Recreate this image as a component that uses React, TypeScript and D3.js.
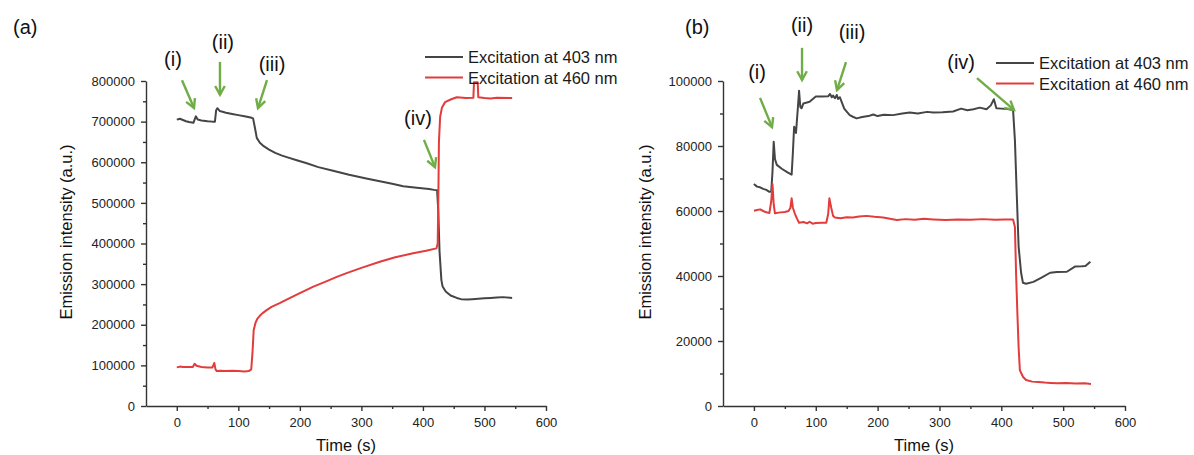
import React, { useEffect, useRef } from 'react';
import * as d3 from 'd3';

const seriesNames = ['Excitation at 403 nm', 'Excitation at 460 nm'];
const seriesColors = ['#454545', '#e23c3c'];
const arrowColor = '#70ad47';

const xTicks = [0, 100, 200, 300, 400, 500, 600];
const xMinorTicks = [50, 150, 250, 350, 450, 550];
const yTicksA = [0, 100000, 200000, 300000, 400000, 500000, 600000, 700000, 800000];
const yMinorA = [50000, 150000, 250000, 350000, 450000, 550000, 650000, 750000];
const yTicksB = [0, 20000, 40000, 60000, 80000, 100000];
const yMinorB = [10000, 30000, 50000, 70000, 90000];

// panel (a), [time s, intensity]
const a403: [number, number][] = [
  [0, 705000], [5, 707000], [10, 704000], [15, 701000], [20, 699000], [27, 697000], [29, 705000],
  [31, 713000], [34, 705000], [40, 703000], [50, 701000], [58, 700000], [62, 700000], [64, 728000],
  [66, 733000], [70, 726000], [80, 722000], [90, 719000], [100, 716000], [110, 713000], [120, 710000],
  [124, 708000], [127, 685000], [130, 660000], [135, 648000], [140, 641000], [150, 631000], [160, 623000],
  [170, 617000], [180, 612000], [195, 605000], [210, 598000], [230, 588000], [254, 579000], [280, 569000],
  [308, 560000], [330, 553000], [350, 547000], [368, 541000], [390, 537000], [410, 534000], [418, 532000],
  [423, 531000], [425, 480000], [427, 380000], [430, 310000], [432, 294000], [437, 282000], [445, 272000],
  [455, 266000], [462, 263000], [472, 262000], [480, 263000], [490, 264000], [500, 265000], [510, 266000],
  [520, 267000], [530, 268000], [545, 266000],
];

const a460: [number, number][] = [
  [0, 95000], [5, 97000], [10, 96000], [20, 96000], [26, 96000], [29, 104000], [32, 99000], [40, 96000],
  [50, 95000], [58, 95000], [61, 106000], [63, 90000], [65, 86000], [70, 87000], [80, 86000], [90, 87000],
  [100, 86000], [110, 85000], [117, 86000], [121, 90000], [123, 130000], [125, 187000], [128, 205000],
  [131, 215000], [135, 222000], [139, 228000], [146, 236000], [154, 244000], [168, 254000], [185, 267000],
  [200, 278000], [222, 294000], [240, 305000], [260, 318000], [276, 327000], [300, 340000], [330, 355000],
  [355, 366000], [384, 376000], [405, 382000], [422, 388000], [424, 400000], [425, 500000], [426, 650000],
  [428, 712000], [431, 735000], [436, 748000], [446, 755000], [455, 760000], [470, 758000], [482, 759000],
  [483, 797000], [489, 797000], [490, 760000], [500, 758000], [510, 757000], [520, 759000], [545, 758000],
];

// panel (b), [time s, intensity]
const b403: [number, number][] = [
  [0, 68300], [5, 67500], [10, 67300], [15, 66800], [20, 66500], [25, 65900], [28, 66000], [30, 72000],
  [32, 81300], [34, 76000], [37, 74200], [45, 73000], [55, 71800], [61, 71200], [63, 78000], [65, 85900],
  [68, 84000], [71, 91600], [73, 97000], [75, 92000], [77, 91600], [80, 93100], [90, 93600], [100, 95200],
  [110, 95200], [120, 95300], [123, 96000], [126, 95000], [128, 95500], [131, 94700], [134, 95700],
  [136, 94500], [139, 95000], [142, 93500], [146, 91500], [150, 90600], [155, 89500], [160, 89000],
  [166, 88500], [175, 88900], [185, 89200], [193, 89700], [200, 89200], [210, 89600], [225, 89500],
  [240, 90000], [252, 90300], [265, 90000], [280, 90500], [290, 90300], [305, 90400], [322, 90600],
  [335, 91500], [345, 91000], [355, 91300], [365, 91800], [376, 91300], [383, 92500], [388, 94400],
  [392, 91600], [400, 91500], [410, 91400], [419, 91100], [422, 81800], [425, 65000], [428, 49000],
  [432, 41000], [435, 37900], [440, 37600], [452, 38200], [465, 39500], [479, 41000], [490, 41200],
  [506, 41300], [519, 42900], [530, 43000], [536, 43100], [544, 44400],
];

const b460: [number, number][] = [
  [0, 60100], [5, 60300], [10, 60500], [15, 60000], [20, 59600], [25, 59400], [28, 63000], [30, 68300],
  [32, 62000], [34, 59300], [40, 59500], [50, 59700], [56, 60000], [59, 61000], [61, 63900], [63, 61000],
  [66, 59300], [70, 57500], [73, 56400], [80, 56600], [86, 56200], [90, 56700], [95, 56100], [100, 56300],
  [110, 56400], [117, 56400], [120, 59000], [122, 63900], [125, 61000], [128, 58500], [131, 58000],
  [140, 57800], [150, 58100], [160, 58000], [170, 58300], [182, 58500], [195, 58200], [209, 58000],
  [220, 57600], [231, 57200], [245, 57500], [260, 57300], [275, 57600], [290, 57400], [310, 57200],
  [330, 57400], [350, 57300], [370, 57500], [390, 57300], [405, 57400], [419, 57400], [422, 55100],
  [424, 40000], [426, 28500], [428, 18000], [430, 11000], [435, 9000], [440, 8000], [450, 7500],
  [460, 7400], [470, 7200], [480, 7100], [490, 7000], [505, 7100], [520, 6900], [535, 7000], [545, 6800],
];

type Mark = { text: string; at: [number, number]; from: [number, number]; to: [number, number] };

const marksA: Mark[] = [
  { text: '(i)', at: [-6.2, 849000], from: [8.5, 802000], to: [28, 733500] },
  { text: '(ii)', at: [75, 891000], from: [70.2, 847000], to: [70.2, 766000] },
  { text: '(iii)', at: [154.7, 837000], from: [146.6, 802000], to: [132, 733500] },
  { text: '(iv)', at: [392, 704000], from: [401.7, 655000], to: [419.6, 588000] },
];

const marksB: Mark[] = [
  { text: '(i)', at: [5, 102200], from: [9.9, 94800], to: [29.3, 85800] },
  { text: '(ii)', at: [77.8, 116800], from: [77.8, 110200], to: [77.8, 100300] },
  { text: '(iii)', at: [158.6, 114500], from: [148.9, 105800], to: [134.3, 97200] },
  { text: '(iv)', at: [335, 105200], from: [360.7, 100900], to: [420.5, 91100] },
];

const font = "'Liberation Sans', Arial, sans-serif";

const panels = [
  {
    label: '(a)', labelX: 13, x0: 146, x1: 546, yMax: 800000, yTicks: yTicksA, yMinor: yMinorA,
    series: [a403, a460], marks: marksA, legendX: 425, legendY: 57, titleX: 66,
  },
  {
    label: '(b)', labelX: 685, x0: 723, x1: 1125, yMax: 100000, yTicks: yTicksB, yMinor: yMinorB,
    series: [b403, b460], marks: marksB, legendX: 996, legendY: 63, titleX: 645,
  },
];

const App = () => {
  const svgRef = useRef<SVGSVGElement>(null);

  useEffect(() => {
    const svg = d3.select(svgRef.current);
    svg.selectAll('*').remove();

    const yBottom = 406;
    const yTop = 81;

    panels.forEach((p) => {
      const x = d3.scaleLinear().domain([-50, 600]).range([p.x0, p.x1]);
      const y = d3.scaleLinear().domain([0, p.yMax]).range([yBottom, yTop]);
      const g = svg.append('g');

      // minor ticks
      g.append('g')
        .attr('transform', `translate(0,${yBottom})`)
        .call(d3.axisBottom(x).tickValues(xMinorTicks).tickSize(3).tickFormat(() => ''))
        .call((s) => s.select('.domain').remove());
      g.append('g')
        .attr('transform', `translate(${p.x0},0)`)
        .call(d3.axisLeft(y).tickValues(p.yMinor).tickSize(3).tickFormat(() => ''))
        .call((s) => s.select('.domain').remove());

      g.append('g')
        .attr('transform', `translate(0,${yBottom})`)
        .call(d3.axisBottom(x).tickValues(xTicks).tickSize(5).tickSizeOuter(0).tickPadding(7).tickFormat(d3.format('d')));
      g.append('g')
        .attr('transform', `translate(${p.x0},0)`)
        .call(d3.axisLeft(y).tickValues(p.yTicks).tickSize(5).tickSizeOuter(0).tickPadding(6).tickFormat(d3.format('d')));

      g.selectAll('.domain, .tick line').attr('stroke', '#333').attr('stroke-width', 1.4);
      g.selectAll('.tick text').attr('font-family', font).attr('font-size', 13).attr('fill', '#222');

      // series
      const line = d3.line<[number, number]>().x((d) => x(d[0])).y((d) => y(d[1]));
      p.series.forEach((s, i) => {
        g.append('path')
          .datum(s)
          .attr('d', line)
          .attr('fill', 'none')
          .attr('stroke', seriesColors[i])
          .attr('stroke-width', 2)
          .attr('stroke-linejoin', 'round');
      });

      // legend
      seriesNames.forEach((name, i) => {
        const ly = p.legendY + i * 20.5;
        g.append('line')
          .attr('x1', p.legendX).attr('x2', p.legendX + 38)
          .attr('y1', ly).attr('y2', ly)
          .attr('stroke', seriesColors[i]).attr('stroke-width', 2);
        g.append('text')
          .attr('x', p.legendX + 43).attr('y', ly + 6)
          .attr('font-family', font).attr('font-size', 16.5).attr('fill', '#1a1a1a')
          .text(name);
      });

      // arrows + roman labels
      p.marks.forEach((m) => {
        const x1 = x(m.from[0]), y1 = y(m.from[1]);
        const x2 = x(m.to[0]), y2 = y(m.to[1]);
        const ang = Math.atan2(y2 - y1, x2 - x1);
        const hl = 10, ha = 0.5;
        g.append('line')
          .attr('x1', x1).attr('y1', y1).attr('x2', x2).attr('y2', y2)
          .attr('stroke', arrowColor).attr('stroke-width', 2.4);
        g.append('path')
          .attr('d', `M${x2 - hl * Math.cos(ang - ha)},${y2 - hl * Math.sin(ang - ha)}L${x2},${y2}L${x2 - hl * Math.cos(ang + ha)},${y2 - hl * Math.sin(ang + ha)}`)
          .attr('fill', 'none').attr('stroke', arrowColor).attr('stroke-width', 2.4)
          .attr('stroke-linejoin', 'miter');
        g.append('text')
          .attr('x', x(m.at[0])).attr('y', y(m.at[1]))
          .attr('dy', '0.26em')
          .attr('text-anchor', 'middle')
          .attr('font-family', font).attr('font-size', 20).attr('fill', '#111')
          .text(m.text);
      });

      // titles
      g.append('text')
        .attr('x', (p.x0 + p.x1) / 2).attr('y', 451)
        .attr('text-anchor', 'middle')
        .attr('font-family', font).attr('font-size', 16.5).attr('fill', '#111')
        .text('Time (s)');
      g.append('text')
        .attr('transform', `translate(${p.titleX + 6},232) rotate(-90)`)
        .attr('text-anchor', 'middle')
        .attr('font-family', font).attr('font-size', 16.5).attr('fill', '#111')
        .text('Emission intensity (a.u.)');
      g.append('text')
        .attr('x', p.labelX).attr('y', 34)
        .attr('font-family', font).attr('font-size', 20).attr('fill', '#111')
        .text(p.label);
    });
  }, []);

  return (
    <div style={{ position: 'absolute', left: 0, top: 0 }}>
      <svg ref={svgRef} width={1194} height={455} style={{ display: 'block', background: '#fff' }}></svg>
    </div>
  );
};

export default App;
